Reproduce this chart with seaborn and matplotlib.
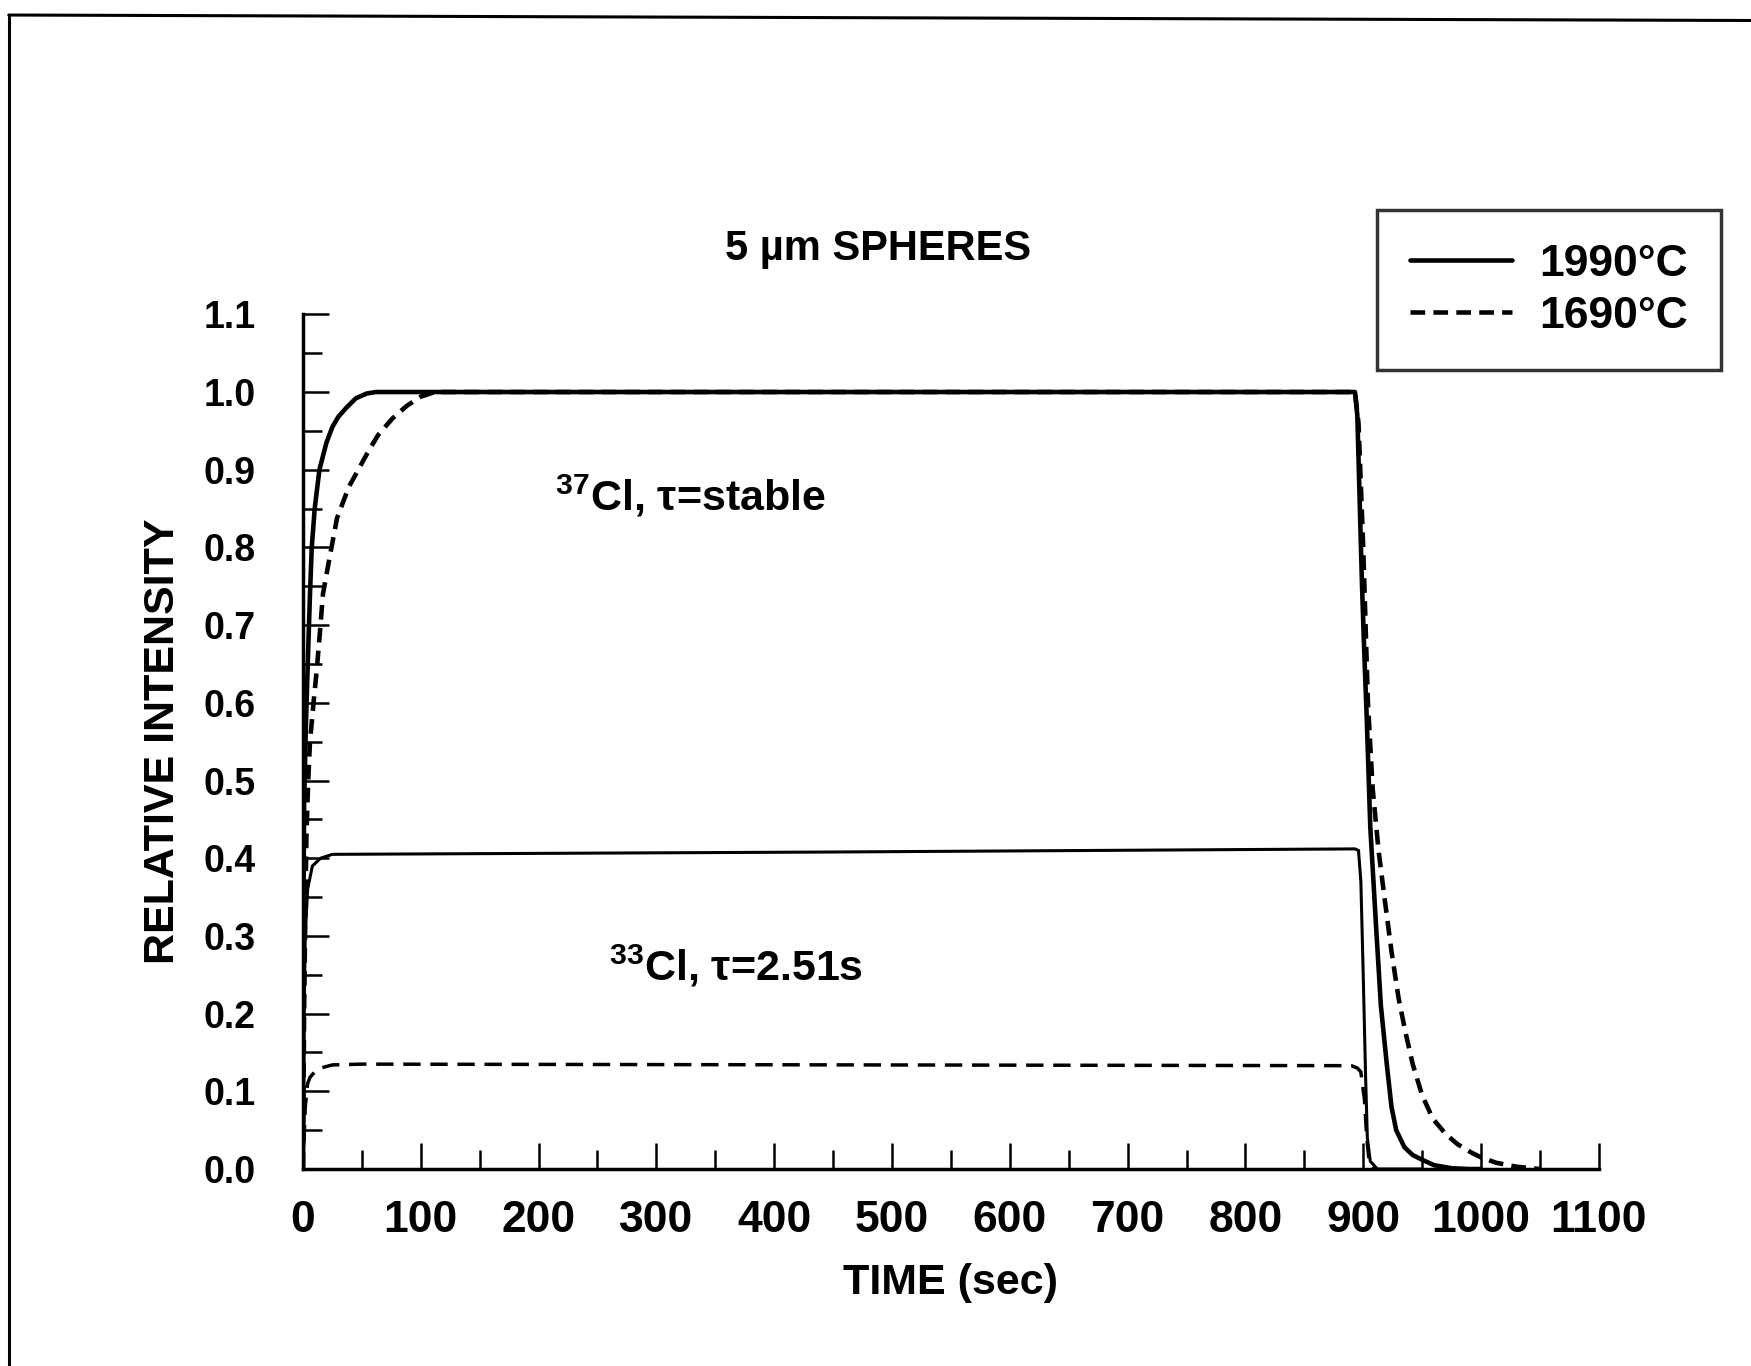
import matplotlib
matplotlib.use('Agg')
import matplotlib.pyplot as plt
from matplotlib.lines import Line2D
from matplotlib.ticker import MultipleLocator, FormatStrFormatter
import seaborn as sns

# values (time in sec, relative intensity)
t_cl37_1990 = [0, 0.3, 1, 2.5, 4.5, 6, 7.5, 10, 14, 20, 25, 30, 37, 45, 54, 62,
               893, 895, 897, 899, 901, 903, 906, 911, 915, 920, 924, 928, 935,
               942, 950, 960, 975, 990, 1000]
v_cl37_1990 = [0, 0.30, 0.47, 0.57, 0.67, 0.74, 0.80, 0.85, 0.90, 0.935, 0.955,
               0.968, 0.98, 0.992, 0.998, 1.0,
               1.0, 0.97, 0.86, 0.75, 0.66, 0.58, 0.44, 0.31, 0.21, 0.135, 0.08,
               0.05, 0.028, 0.018, 0.012, 0.005, 0.001, 0.0, 0.0]

t_cl37_1690 = [0, 1, 2, 3, 4.5, 6, 9, 11.6, 14.4, 17, 23, 29, 39, 47, 56, 64,
               76, 88, 100, 112, 893, 896, 900, 904, 908, 913, 918, 924, 930,
               936, 942, 950, 959, 970, 980, 992, 1000, 1013, 1030, 1050]
v_cl37_1690 = [0, 0.2, 0.33, 0.43, 0.5, 0.55, 0.6, 0.64, 0.69, 0.74, 0.79, 0.838,
               0.878, 0.9, 0.925, 0.945, 0.966, 0.982, 0.994, 1.0, 1.0, 0.96,
               0.8, 0.6, 0.49, 0.41, 0.35, 0.28, 0.22, 0.175, 0.135, 0.095,
               0.065, 0.045, 0.032, 0.021, 0.015, 0.008, 0.003, 0.0]

t_cl33_1990 = [0, 1, 2, 4, 8, 15, 25, 450, 893, 896, 898, 900, 902, 903.5, 906,
               912, 950]
v_cl33_1990 = [0, 0.2, 0.3, 0.36, 0.39, 0.40, 0.405, 0.408, 0.412, 0.41, 0.37,
               0.25, 0.12, 0.04, 0.01, 0.0, 0.0]

t_cl33_1690 = [0, 2, 4, 6, 10, 15, 25, 50, 890, 895, 898, 901, 903, 905, 910]
v_cl33_1690 = [0, 0.08, 0.11, 0.118, 0.125, 0.13, 0.134, 0.135, 0.133, 0.13,
               0.125, 0.09, 0.04, 0.01, 0.0]

legend_labels = ['1990°C', '1690°C']

sns.set_theme(style='ticks')
plt.rcParams['font.family'] = ['Liberation Sans', 'DejaVu Sans']
plt.rcParams['mathtext.fontset'] = 'custom'
plt.rcParams['mathtext.rm'] = 'Liberation Sans:bold'
plt.rcParams['mathtext.it'] = 'Liberation Sans:bold'
plt.rcParams['mathtext.bf'] = 'Liberation Sans:bold'
for key in ['text.color', 'axes.labelcolor', 'xtick.color', 'ytick.color',
            'axes.edgecolor']:
    plt.rcParams[key] = 'black'

fig = plt.figure(figsize=(17.51, 13.66), dpi=100)
ax = fig.add_axes([0.1730, 0.1442, 0.7401, 0.6257])

thick_dash = (0, (3.2, 1.8))
thin_dash = (0, (5.0, 2.8))

sns.lineplot(x=t_cl37_1990, y=v_cl37_1990, ax=ax, color='black', lw=3.3,
             estimator=None, sort=False, label=legend_labels[0])
sns.lineplot(x=t_cl37_1690, y=v_cl37_1690, ax=ax, color='black', lw=3.3,
             ls=thick_dash, estimator=None, sort=False, label=legend_labels[1])
sns.lineplot(x=t_cl33_1990, y=v_cl33_1990, ax=ax, color='black', lw=2.2,
             estimator=None, sort=False)
sns.lineplot(x=t_cl33_1690, y=v_cl33_1690, ax=ax, color='black', lw=2.5,
             ls=thin_dash, estimator=None, sort=False)

ax.set_xlim(0, 1100)
ax.set_ylim(0, 1.1)
ax.xaxis.set_major_locator(MultipleLocator(100))
ax.xaxis.set_minor_locator(MultipleLocator(50))
ax.yaxis.set_major_locator(MultipleLocator(0.1))
ax.yaxis.set_minor_locator(MultipleLocator(0.05))
ax.yaxis.set_major_formatter(FormatStrFormatter('%.1f'))

for side in ['top', 'right']:
    ax.spines[side].set_visible(False)
for side in ['left', 'bottom']:
    ax.spines[side].set_linewidth(2.5)

ax.tick_params(which='both', direction='in', bottom=True, left=True,
               top=False, right=False, width=1.8)
ax.tick_params(which='major', length=19)
ax.tick_params(which='minor', length=14)
ax.tick_params(axis='y', which='major', pad=34, labelsize=27)
ax.tick_params(axis='x', which='major', pad=22, labelsize=32)
for lab in ax.get_xticklabels() + ax.get_yticklabels():
    lab.set_fontweight('bold')

ax.set_xlabel('TIME (sec)', fontsize=31, fontweight='bold', labelpad=16)
ax.set_ylabel('RELATIVE INTENSITY', fontsize=31, fontweight='bold', labelpad=15)

ax.text(0.4437, 1.077, '5 µm SPHERES', transform=ax.transAxes, ha='center',
        va='center', fontsize=30, fontweight='bold')
ax.text(214, 0.847, r'$^{37}$Cl, τ=stable', ha='left', va='baseline',
        fontsize=31, fontweight='bold')
ax.text(260, 0.243, r'$^{33}$Cl, τ=2.51s', ha='left', va='baseline',
        fontsize=31, fontweight='bold')

leg = ax.legend(loc='upper right', bbox_to_anchor=(0.983, 0.846),
                bbox_transform=fig.transFigure, borderaxespad=0,
                prop={'size': 32, 'weight': 'bold'}, frameon=True,
                fancybox=False, edgecolor='black', handlelength=2.3,
                handletextpad=0.6, labelspacing=0.25, borderpad=0.75)
leg.get_frame().set_linewidth(2.5)

# page border of the scanned sheet
fig.add_artist(Line2D([0.005, 1.0], [0.989, 0.985], transform=fig.transFigure,
                      color='black', lw=2.2))
fig.add_artist(Line2D([0.005, 0.005], [0.989, 0.0], transform=fig.transFigure,
                      color='black', lw=2.2))

fig.savefig('out.png', dpi=100, facecolor='white')
